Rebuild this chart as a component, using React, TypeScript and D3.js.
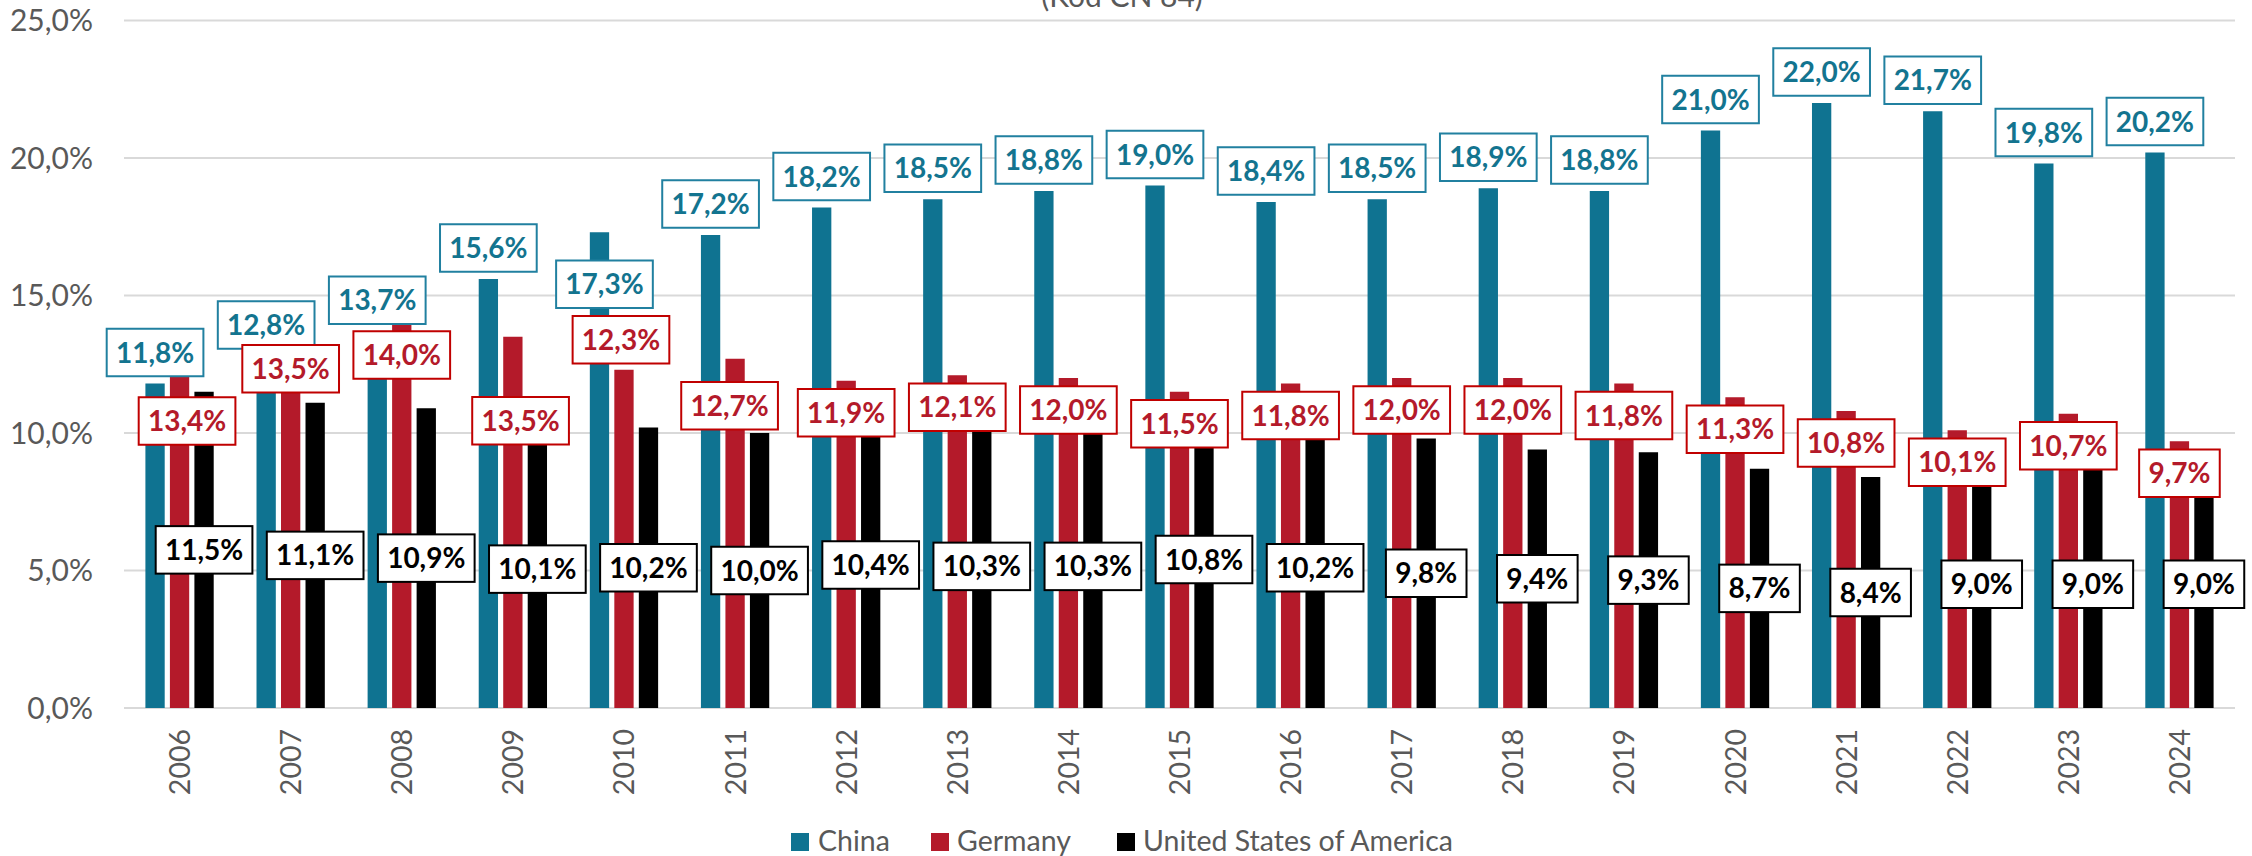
import React from "react";
import * as d3 from "d3";

const years = ["2006","2007","2008","2009","2010","2011","2012","2013","2014","2015","2016","2017","2018","2019","2020","2021","2022","2023","2024"];
const seriesNames = ["China", "Germany", "United States of America"];
const china = [11.8,12.8,13.7,15.6,17.3,17.2,18.2,18.5,18.8,19.0,18.4,18.5,18.9,18.8,21.0,22.0,21.7,19.8,20.2];
const germany = [13.4,13.5,14.0,13.5,12.3,12.7,11.9,12.1,12.0,11.5,11.8,12.0,12.0,11.8,11.3,10.8,10.1,10.7,9.7];
const usa = [11.5,11.1,10.9,10.1,10.2,10.0,10.4,10.3,10.3,10.8,10.2,9.8,9.4,9.3,8.7,8.4,9.0,9.0,9.0];
const yTicks = [0, 5, 10, 15, 20, 25];
const titleText = "(Kód CN 84)";

// layout (pixel nudges of individual data labels, as placed in the original)
const chinaLabelNudge: Record<string, [number, number]> = { "2010": [5, 83] };
const germanyLabelNudge: Record<string, [number, number]> = {
  "2006": [7.5, 49.5],
  "2009": [7.7, 52],
  "2010": [-3, -62],
  "2011": [-5.5, 15],
};

const W = 2252, H = 856;
const plotLeft = 124, plotRight = 2235, plotTop = 20.5, plotBottom = 708;
const COLORS = ["#0F7391", "#B41A2A", "#000000"];
const TEXT_COLORS = ["#13748F", "#B41A2A", "#000000"];
const BOX_STROKE = ["#2180A0", "#C00000", "#000000"];
const GRAY = "#595959";
const FONT = "Lato, 'Open Sans', sans-serif";

const locale = d3.formatLocale({ decimal: ",", thousands: ".", grouping: [3], currency: ["", ""] });
const fmt1 = locale.format(".1f");
const pct = (v: number) => fmt1(v) + "%";

export default function App() {
  const x = d3.scaleBand<string>().domain(years).range([plotLeft, plotRight]).padding(0);
  const y = d3.scaleLinear().domain([0, 25]).range([plotBottom, plotTop]);
  const series = [china, germany, usa];
  const barW = 19.3;
  const offsets = [-24.5, 0, 24.5];
  const cx = (yr: string) => (x(yr) as number) + x.bandwidth() / 2;

  const boxW = (s: string) => 16.1 * s.length + 16.2;
  const boxH = 47.5;

  type Lbl = { key: string; x: number; y: number; text: string; si: number };
  const labels: Lbl[] = [];
  years.forEach((yr, i) => {
    {
      const v = china[i];
      const n = chinaLabelNudge[yr] || [0, 0];
      labels.push({ key: "c" + yr, x: cx(yr) + offsets[0] + n[0], y: y(v) - 31 + n[1], text: pct(v), si: 0 });
    }
    {
      const v = germany[i];
      const n = germanyLabelNudge[yr] || [0, 0];
      labels.push({ key: "g" + yr, x: cx(yr) + offsets[1] + n[0], y: y(v) + 32 + n[1], text: pct(v), si: 1 });
    }
    {
      const v = usa[i];
      labels.push({ key: "u" + yr, x: cx(yr) + offsets[2], y: y(v / 2), text: pct(v), si: 2 });
    }
  });

  const legendPos = [
    { sq: 791, tx: 818 },
    { sq: 931, tx: 957 },
    { sq: 1117, tx: 1143 },
  ];

  return (
    <svg width={W} height={H} style={{ position: "absolute", left: 0, top: 0, background: "#fff" }} fontFamily={FONT}>
      <rect x={0} y={0} width={W} height={H} fill="#fff" />
      <text x={1122} y={7} textAnchor="middle" fontSize={30} fill={GRAY}>{titleText}</text>
      {yTicks.map((t) => (
        <g key={t}>
          <line x1={plotLeft} x2={plotRight} y1={y(t)} y2={y(t)} stroke="#D9D9D9" strokeWidth={2} />
          <text x={93} y={y(t)} dy="0.36em" textAnchor="end" fontSize={30} fill={GRAY}>{pct(t)}</text>
        </g>
      ))}
      {series.map((vals, si) => (
        <g key={si}>
          {vals.map((v, i) => (
            <rect
              key={years[i]}
              x={cx(years[i]) + offsets[si] - barW / 2}
              y={y(v)}
              width={barW}
              height={y(0) - y(v)}
              fill={COLORS[si]}
            />
          ))}
        </g>
      ))}
      {years.map((yr) => (
        <text
          key={yr}
          transform={`translate(${cx(yr) + 10.5},729) rotate(-90)`}
          textAnchor="end"
          fontSize={28.5}
          fill={GRAY}
        >
          {yr}
        </text>
      ))}
      {labels.map((l) => {
        const w = boxW(l.text);
        return (
          <g key={l.key}>
            <rect x={l.x - w / 2} y={l.y - boxH / 2} width={w} height={boxH} fill="#fff" stroke={BOX_STROKE[l.si]} strokeWidth={2} />
            <text x={l.x} y={l.y + 10} textAnchor="middle" fontSize={28} fontWeight="bold" fill={TEXT_COLORS[l.si]}>
              {l.text}
            </text>
          </g>
        );
      })}
      {seriesNames.map((name, si) => (
        <g key={name}>
          <rect x={legendPos[si].sq} y={833} width={18} height={18} fill={COLORS[si]} />
          <text x={legendPos[si].tx} y={850.7} fontSize={28.5} fill={GRAY}>{name}</text>
        </g>
      ))}
    </svg>
  );
}
